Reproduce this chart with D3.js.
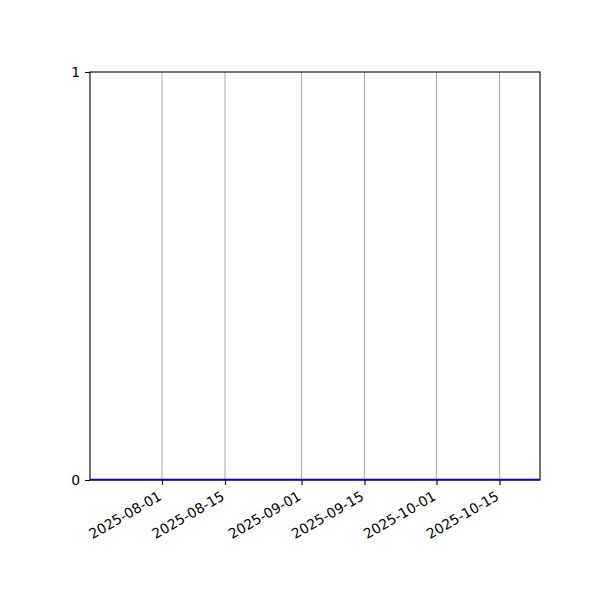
<!DOCTYPE html>
<html>
<head>
<meta charset="utf-8">
<script src="https://cdn.jsdelivr.net/npm/d3@7"></script>
<style>
  html, body { margin: 0; padding: 0; background: #fff; }
  svg { display: block; }
  svg text { font-family: "DejaVu Sans", sans-serif; }
</style>
</head>
<body>
<svg id="chart" width="600" height="600"></svg>
<script>
// Data
const dates = ["2025-07-16", "2025-08-01", "2025-09-01", "2025-10-01", "2025-10-24"];
const values = [0, 0, 0, 0, 0];
const xTickLabels = ["2025-08-01", "2025-08-15", "2025-09-01", "2025-09-15", "2025-10-01", "2025-10-15"];
const yTickValues = [0, 1];

const FONT = "DejaVu Sans, sans-serif";
const parse = d3.utcParse("%Y-%m-%d");
const fmt = d3.utcFormat("%Y-%m-%d");
const points = dates.map((d, i) => ({ date: parse(d), value: values[i] }));

const margin = { left: 90, right: 60, top: 72, bottom: 120 };
const W = 600, H = 600;
const iw = W - margin.left - margin.right;
const ih = H - margin.top - margin.bottom;

const svg = d3.select("#chart");
const g = svg.append("g").attr("transform", `translate(${margin.left},${margin.top})`);

const x = d3.scaleUtc().domain(d3.extent(points, d => d.date)).range([0, iw]);
const y = d3.scaleLinear().domain([0, 1]).range([ih, 0]);

// vertical grid
g.append("g").selectAll("line").data(xTickLabels.map(parse)).join("line")
  .attr("x1", d => x(d)).attr("x2", d => x(d))
  .attr("y1", 0).attr("y2", ih)
  .attr("stroke", "#b0b0b0").attr("stroke-width", 1.1);

// x axis
const xAxis = g.append("g").attr("transform", `translate(0,${ih})`)
  .call(d3.axisBottom(x).tickValues(xTickLabels.map(parse)).tickFormat(fmt).tickSize(4.9).tickPadding(4));
xAxis.attr("font-family", FONT).attr("font-size", 13.9);
xAxis.select(".domain").remove();
xAxis.selectAll(".tick line").attr("stroke", "#000").attr("stroke-width", 1.1);
xAxis.selectAll(".tick text")
  .attr("fill", "#000")
  .attr("text-anchor", "end")
  .attr("dy", null)
  .attr("y", 0).attr("x", 0)
  .attr("transform", "translate(0,19) rotate(-30)");

// y axis
const yAxis = g.append("g")
  .call(d3.axisLeft(y).tickValues(yTickValues).tickFormat(d3.format("d")).tickSize(4.9).tickPadding(4.9));
yAxis.attr("font-family", FONT).attr("font-size", 13.9);
yAxis.select(".domain").remove();
yAxis.selectAll(".tick line").attr("stroke", "#000").attr("stroke-width", 1.1);
yAxis.selectAll(".tick text").attr("fill", "#000");

// frame
g.append("rect").attr("x", 0).attr("y", 0).attr("width", iw).attr("height", ih)
  .attr("fill", "none").attr("stroke", "#000").attr("stroke-width", 1.1);

// data line
g.append("path").datum(points)
  .attr("d", d3.line().x(d => x(d.date)).y(d => y(d.value)))
  .attr("fill", "none").attr("stroke", "#0000ee").attr("stroke-width", 1.6)
  .attr("transform", "translate(0,-0.4)");
</script>
</body>
</html>
